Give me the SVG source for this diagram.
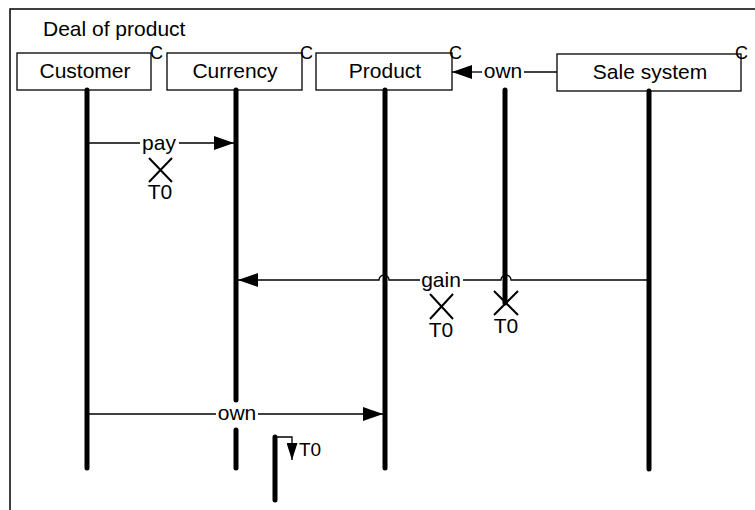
<svg xmlns="http://www.w3.org/2000/svg" width="755" height="510" viewBox="0 0 755 510">
<style>
text{font-family:"Liberation Sans",Arial,sans-serif;fill:#000}
.lbl{font-size:21px;text-anchor:middle}
.c{font-size:18px}
.box{fill:#fff;stroke:#000;stroke-width:1.3}
.life{stroke:#000;stroke-width:5;stroke-linecap:round;fill:none}
.msg{stroke:#000;stroke-width:1.3;fill:none}
.x{stroke:#000;stroke-width:2;fill:none}
</style>
<defs>
<marker id="ah" viewBox="0 0 20 14" refX="20" refY="7" markerWidth="20" markerHeight="14" markerUnits="userSpaceOnUse" orient="auto">
<path d="M0,0 L20,7 L0,14 Z" fill="#000"/>
</marker>
<marker id="ahs" viewBox="0 0 17 11" refX="17" refY="5.5" markerWidth="17" markerHeight="11" markerUnits="userSpaceOnUse" orient="auto">
<path d="M0,0 L17,5.5 L0,11 Z" fill="#000"/>
</marker>
</defs>
<rect x="10" y="9" width="760" height="502" fill="#fff" stroke="#000" stroke-width="1.5"/>
<text x="43" y="36" style="font-size:21px">Deal of product</text>

<g id="customer">
<rect class="box" x="17" y="53" width="134" height="37"/>
<text class="lbl" x="85" y="78">Customer</text>
<text class="c" x="150" y="59">C</text>
<line class="life" x1="87" y1="90" x2="87" y2="468"/>
</g>
<g id="currency">
<rect class="box" x="167" y="53" width="135" height="37"/>
<text class="lbl" x="235" y="78">Currency</text>
<text class="c" x="300" y="59">C</text>
<line class="life" x1="236" y1="90" x2="236" y2="400"/>
<line class="life" x1="236" y1="430" x2="236" y2="468"/>
</g>
<g id="product">
<rect class="box" x="316" y="53" width="136" height="37"/>
<text class="lbl" x="385" y="78">Product</text>
<text class="c" x="449" y="59">C</text>
<line class="life" x1="385" y1="90" x2="385" y2="468"/>
</g>
<g id="salesystem">
<rect class="box" x="557" y="54" width="184" height="37"/>
<text class="lbl" x="650" y="79">Sale system</text>
<text class="c" x="735" y="59">C</text>
<line class="life" x1="649" y1="91" x2="649" y2="469"/>
</g>
<g id="own-activation">
<line class="life" x1="505" y1="90" x2="505" y2="303"/>
</g>
<g id="extra-lifeline">
<line class="life" x1="275" y1="437" x2="275" y2="500"/>
</g>

<g id="connectors">
<line class="msg" x1="481" y1="72" x2="557" y2="72"/>
<line class="msg" x1="481" y1="72" x2="452" y2="72" marker-end="url(#ah)"/>
<rect x="482" y="62" width="42" height="20" fill="#fff"/>
<text class="lbl" x="503" y="78">own</text>
<line class="msg" x1="89" y1="143" x2="234" y2="143" marker-end="url(#ah)"/>
<rect x="140" y="134" width="39" height="18" fill="#fff"/>
<text class="lbl" x="159" y="150">pay</text>
<path class="msg" d="M647,280 L511,280 A5,5 0 0 0 501,280 L389,280 A5,5 0 0 0 379,280 L238,280" marker-end="url(#ah)"/>
<rect x="420" y="271" width="43" height="18" fill="#fff"/>
<text class="lbl" x="441" y="287">gain</text>
<line class="msg" x1="89" y1="414" x2="383" y2="414" marker-end="url(#ah)"/>
<rect x="216" y="404" width="42" height="20" fill="#fff"/>
<text class="lbl" x="237" y="420">own</text>
<path class="msg" d="M275,437 L292,437 L292,460" marker-end="url(#ahs)"/>
<text x="299" y="456" style="font-size:19px">T0</text>
</g>

<g id="terminations">
<path class="x" d="M149,158 L172,182 M172,158 L149,182"/>
<text class="lbl" x="160" y="199">T0</text>
<path class="x" d="M430,294 L453,319 M453,294 L430,319"/>
<text class="lbl" x="441" y="337">T0</text>
<path class="x" d="M494,291 L518,315 M518,291 L494,315"/>
<text class="lbl" x="506" y="333">T0</text>
</g>
</svg>
